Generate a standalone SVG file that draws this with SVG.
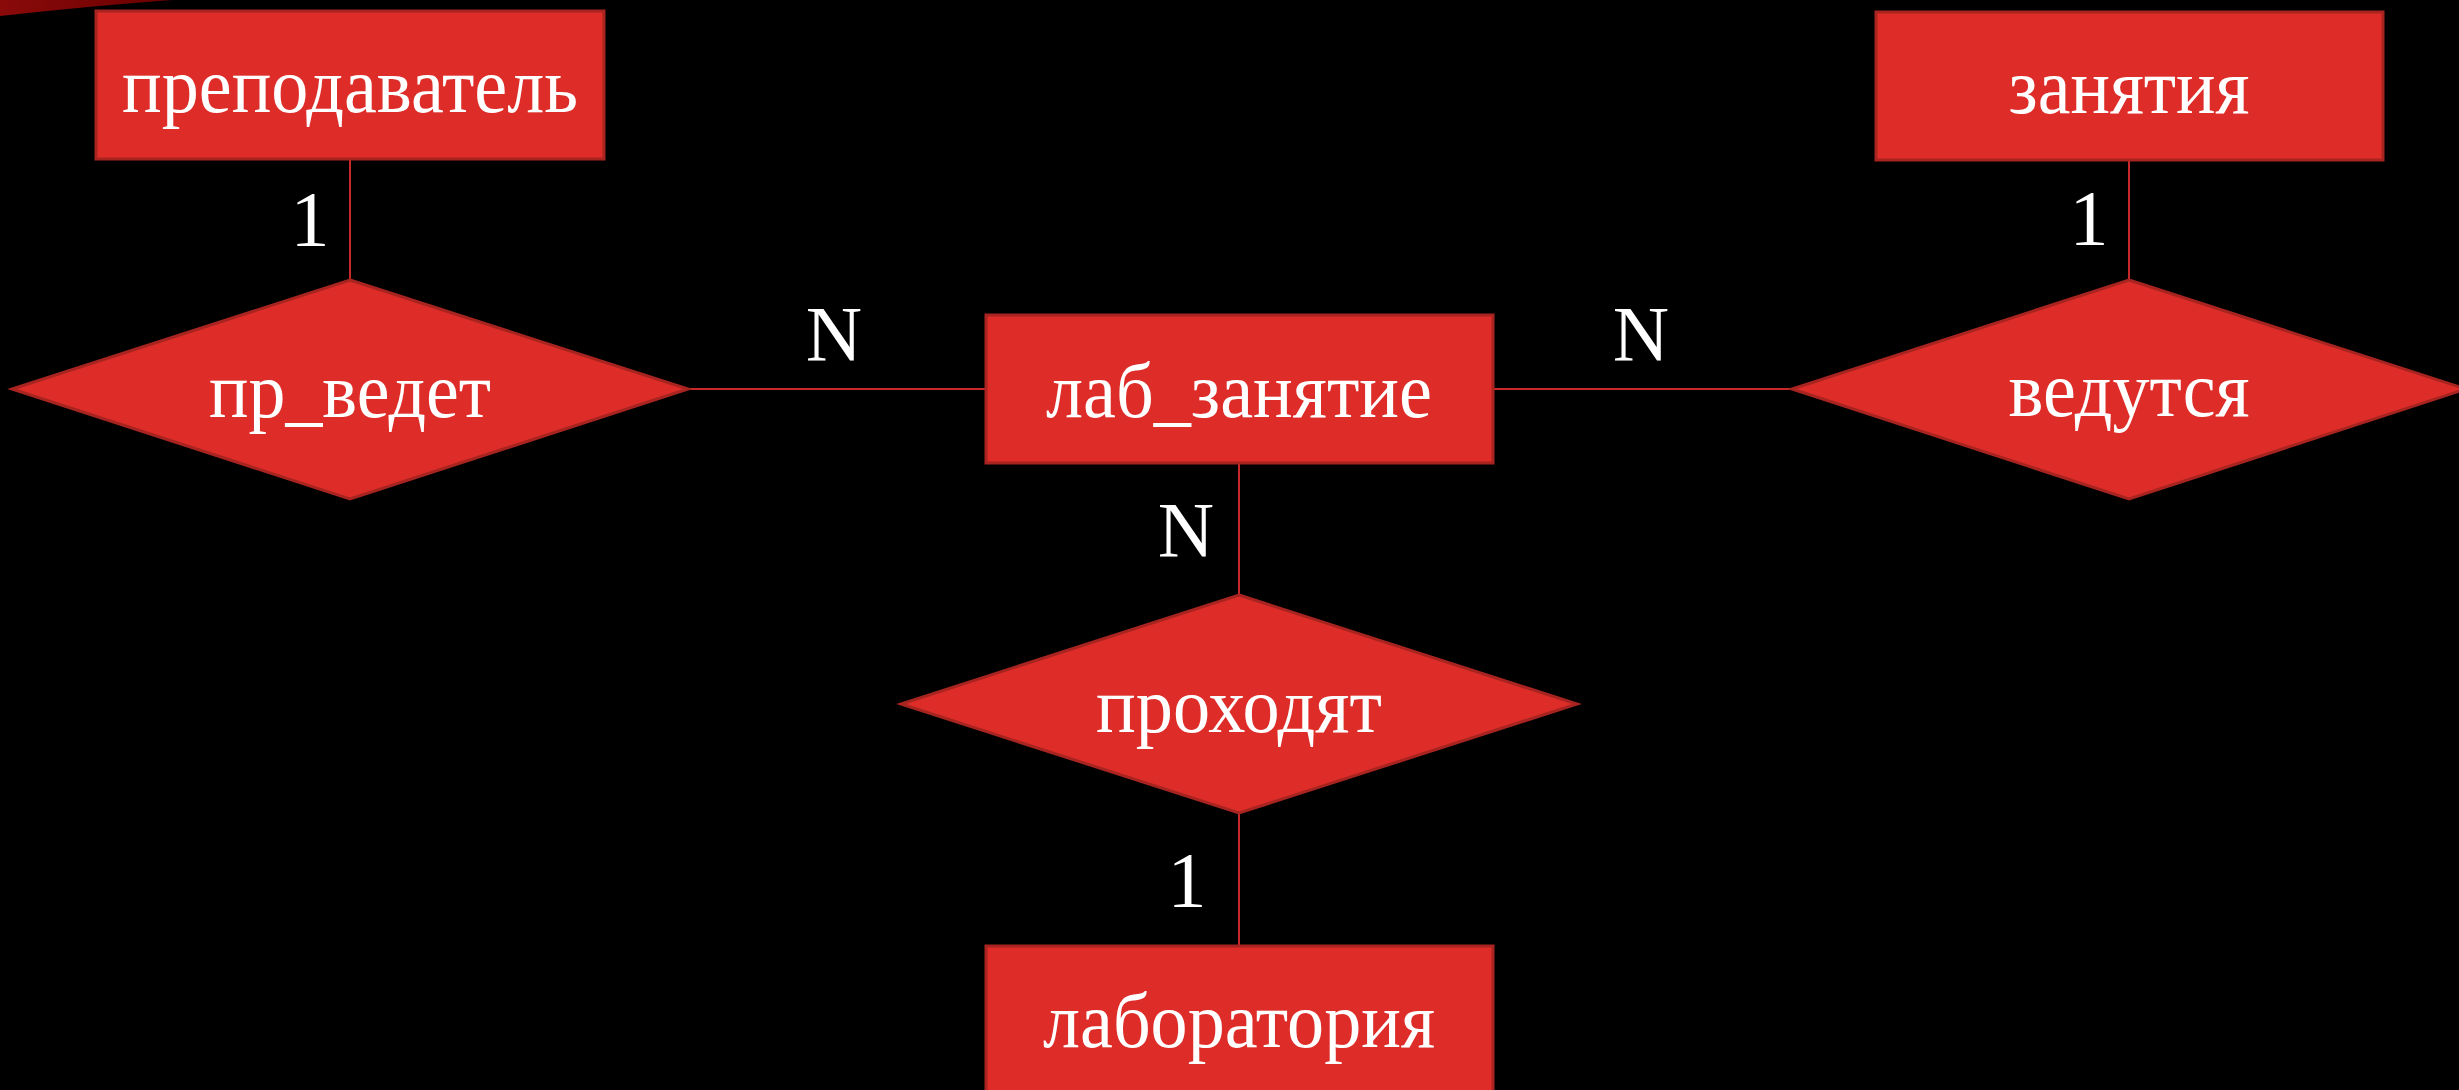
<svg xmlns="http://www.w3.org/2000/svg" width="2459" height="1090" viewBox="0 0 2459 1090">
  <defs>
    <linearGradient id="swoosh" x1="0" y1="0" x2="1" y2="0">
      <stop offset="0" stop-color="#8a0a0a"/>
      <stop offset="1" stop-color="#6a0000"/>
    </linearGradient>
  </defs>
  <style>
    .ent { fill: #de2d29; stroke: #a82420; stroke-width: 3; }
    .rel { fill: #de2d29; stroke: #a82420; stroke-width: 3; }
    .conn { stroke: #c8282a; stroke-width: 2; fill: none; }
    .lbl { fill: #ffffff; font-family: "Liberation Serif", "Times New Roman", serif; font-size: 78px; text-anchor: middle; }
    .card { fill: #ffffff; font-family: "Liberation Serif", "Times New Roman", serif; font-size: 78px; text-anchor: middle; }
  </style>
  <rect x="0" y="0" width="2459" height="1090" fill="#000000"/>
  <path d="M0,0 L172,0 Q90,6 0,16 Z" fill="url(#swoosh)"/>

  <g id="connectors">
    <line class="conn" x1="350" y1="159" x2="350" y2="280"/>
    <line class="conn" x1="688" y1="389" x2="986" y2="389"/>
    <line class="conn" x1="1493" y1="389" x2="1792" y2="389"/>
    <line class="conn" x1="2129" y1="160" x2="2129" y2="280"/>
    <line class="conn" x1="1239" y1="463" x2="1239" y2="595"/>
    <line class="conn" x1="1239" y1="813" x2="1239" y2="946"/>
    <text class="card" x="310" y="245">1</text>
    <text class="card" x="834" y="360">N</text>
    <text class="card" x="1641" y="360">N</text>
    <text class="card" x="2089" y="244">1</text>
    <text class="card" x="1186" y="556">N</text>
    <text class="card" x="1187" y="906">1</text>
  </g>

  <g id="prepodavatel">
    <rect class="ent" x="96" y="11" width="508" height="148"/>
    <text class="lbl" x="350" y="112" textLength="456" lengthAdjust="spacingAndGlyphs">преподаватель</text>
  </g>
  <g id="zanyatiya">
    <rect class="ent" x="1876" y="12" width="507" height="148"/>
    <text class="lbl" x="2129" y="113" textLength="241" lengthAdjust="spacingAndGlyphs">занятия</text>
  </g>
  <g id="lab_zanyatie">
    <rect class="ent" x="986" y="315" width="507" height="148"/>
    <text class="lbl" x="1239" y="417" textLength="386" lengthAdjust="spacingAndGlyphs">лаб_занятие</text>
  </g>
  <g id="laboratoriya">
    <rect class="ent" x="986" y="946" width="507" height="160"/>
    <text class="lbl" x="1239" y="1047" textLength="392" lengthAdjust="spacingAndGlyphs">лаборатория</text>
  </g>
  <g id="pr_vedet">
    <polygon class="rel" points="350,280 688,389 350,499 12,389"/>
    <text class="lbl" x="350" y="417" textLength="282" lengthAdjust="spacingAndGlyphs">пр_ведет</text>
  </g>
  <g id="vedutsya">
    <polygon class="rel" points="2129,280 2466,389 2129,499 1792,389"/>
    <text class="lbl" x="2129" y="416" textLength="241" lengthAdjust="spacingAndGlyphs">ведутся</text>
  </g>
  <g id="prohodyat">
    <polygon class="rel" points="1239,595 1577,704 1239,813 901,704"/>
    <text class="lbl" x="1239" y="732" textLength="286" lengthAdjust="spacingAndGlyphs">проходят</text>
  </g>
</svg>
